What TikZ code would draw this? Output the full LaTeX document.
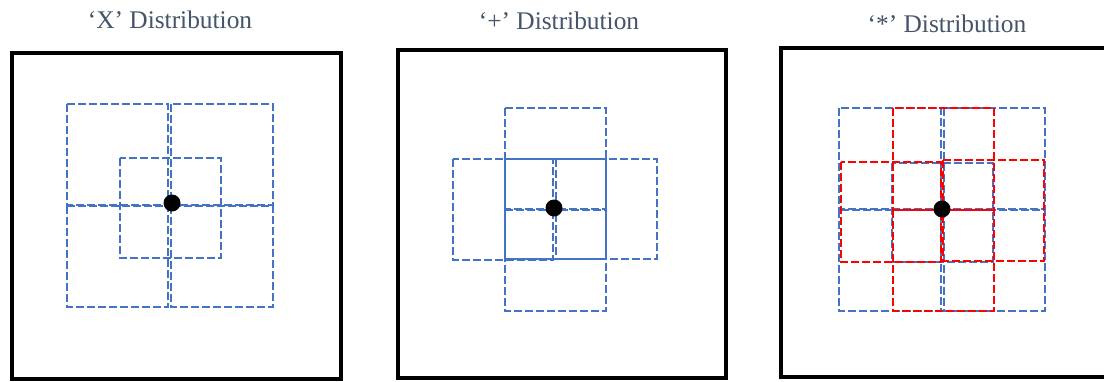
\documentclass[tikz,border=0pt]{standalone}
\usepackage{fontspec}
\setmainfont{Liberation Serif}
\usepackage{tikz}
\usetikzlibrary{positioning}
\usepackage{xcolor}
\definecolor{cellblue}{HTML}{4472C4}
\definecolor{cellred}{HTML}{FF0000}
\definecolor{titlegray}{HTML}{44546A}

\begin{document}
\begin{tikzpicture}[x=0.5pt, y=-0.5pt,
  panel/.style={draw=black, line width=2pt},
  cellb/.style={draw=cellblue, line width=1.2pt, dash pattern=on 4pt off 1.5pt},
  cellr/.style={draw=cellred, line width=1.2pt, dash pattern=on 4pt off 1.5pt},
  centre/.style={circle, fill=black, inner sep=0pt, minimum size=8.5pt},
  heading/.style={anchor=base, text=titlegray, font=\fontsize{12.7}{15}\selectfont, inner sep=0pt}]
\useasboundingbox (0,0) rectangle (1104,381);
\fill[white] (0,0) rectangle (1104,381);

% 'X' distribution
\node[heading] (titleX) at (170,28) {‘X’ Distribution};
\draw[panel] (12,53) rectangle (341,379);
\draw[cellb] (67,104) rectangle (168,205);
\draw[cellb] (171,104) rectangle (273,205);
\draw[cellb] (67,206) rectangle (168,307);
\draw[cellb] (171,206) rectangle (273,307);
\draw[cellb] (120,158) rectangle (221,258);
\node[centre] (dotX) at (172,203) {};

% '+' distribution
\node[heading] (titlePlus) at (559,29) {‘+’ Distribution};
\draw[panel] (398,50) rectangle (726,378);
\draw[cellb] (505,108) rectangle (606,209);
\draw[cellb] (505,210) rectangle (606,311);
\draw[cellb] (453,159) rectangle (553,260);
\draw[cellb] (556,159) rectangle (657,259);
\draw[cellblue, line width=1.2pt] (505,159) rectangle (606,259);
\node[centre] (dotPlus) at (554,208) {};

% '*' distribution
\node[heading] (titleStar) at (947,32) {‘*’ Distribution};
\draw[panel] (1120,48) -- (781,48) -- (781,377) -- (1120,377);
\draw[cellb] (839,108) rectangle (941,209);
\draw[cellb] (944,108) rectangle (1045,209);
\draw[cellb] (839,210) rectangle (941,311);
\draw[cellb] (944,210) rectangle (1045,311);
\draw[cellb] (892,163) rectangle (993,262);
\draw[cellr] (893,108) rectangle (994,210);
\draw[cellr] (841,162) rectangle (941,262);
\draw[cellr] (943,160) rectangle (1044,261);
\draw[cellr] (893,210) rectangle (994,311);
\node[centre] (dotStar) at (942,209) {};
\end{tikzpicture}
\end{document}
